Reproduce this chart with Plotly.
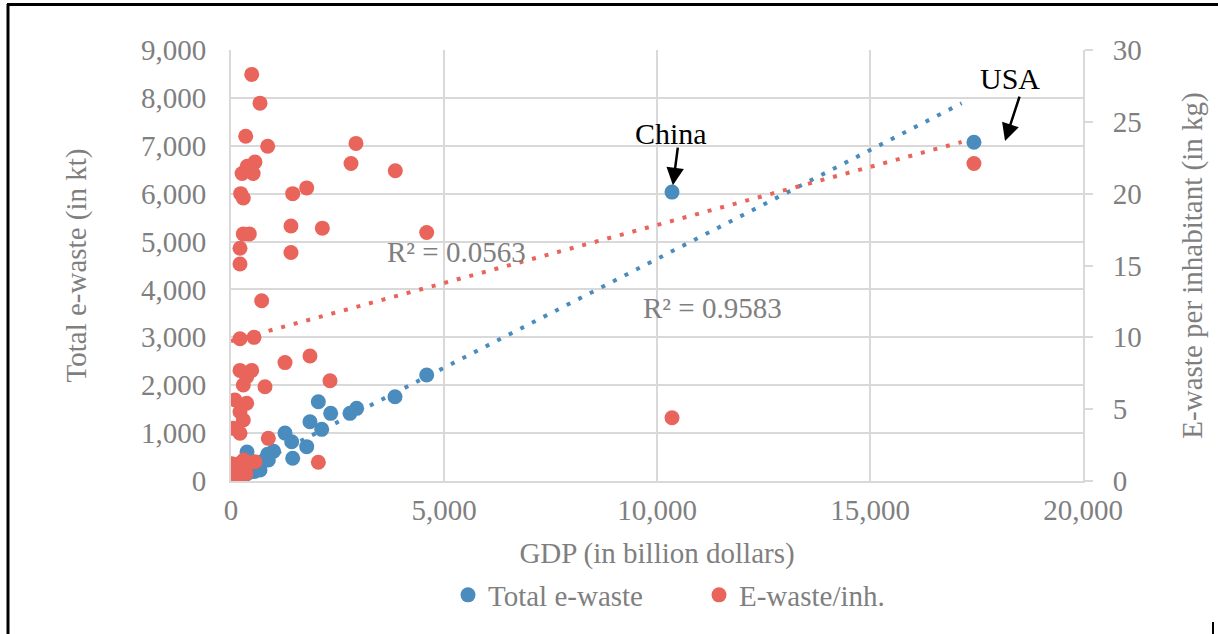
import plotly.graph_objects as go

# ---- Data -------------------------------------------------------------
# Total e-waste (kt) against GDP (billion dollars)
gdp_total = [17440, 10352, 4594, 3850, 2950, 2793, 2050, 2340, 1854, 2129,
             1268, 1424, 1777, 1448, 376, 1000, 860, 876, 681,
             760, 700, 640, 600, 550, 520, 450, 420, 380, 350, 300,
             270, 250, 200, 180, 150, 130, 120, 100, 90, 80, 60, 50, 40, 30, 20]
total_ewaste_kt = [7075, 6033, 2213, 1760, 1517, 1413, 1656, 1413, 1238, 1079,
                   1000, 820, 717, 474, 605, 620, 560, 438, 230,
                   420, 380, 350, 280, 200, 330, 250, 180, 200, 140, 160,
                   90, 120, 100, 70, 80, 50, 60, 45, 35, 40, 30, 25, 20, 15, 10]

# E-waste per inhabitant (kg) against GDP (billion dollars)
gdp_per_inh = [17440, 10352, 486, 681, 345, 861, 2934, 2817, 3857, 563,
               380, 260, 520, 227, 289, 1448, 1777, 289, 430, 1408,
               2144, 4594, 211, 211, 1408, 720, 211, 540, 1268, 1854,
               2324, 211, 486, 368, 289, 798, 94, 368, 211, 289,
               54, 211, 876, 2050, 563,
               20, 211, 300, 400, 100, 50, 150, 30, 250, 10, 350]
ewaste_per_inh_kg = [22.1, 4.4, 28.3, 26.3, 24.0, 23.3, 23.5, 22.1, 21.6, 22.2,
                     21.9, 21.4, 21.4, 20.0, 19.7, 20.0, 20.4, 17.2, 17.2, 17.75,
                     17.6, 17.3, 16.2, 15.1, 15.9, 12.55, 9.9, 10.0, 8.24, 8.7,
                     6.98, 7.7, 7.7, 7.26, 6.68, 6.56, 5.64, 5.41, 4.82, 4.25,
                     3.67, 3.32, 2.97, 1.30, 1.34,
                     1.2, 1.23, 1.46, 1.2, 0.65, 0.07, 0.4, 0.9, 0.8, 0.3, 0.5]

# Linear trendlines
trend_x = [0, 17150]
total_trend_intercept, total_trend_slope, total_trend_r2 = 92.0, 0.4545, "0.9583"
inh_trend_intercept, inh_trend_slope, inh_trend_r2 = 9.74, 0.000808, "0.0563"

x_ticks = [0, 5000, 10000, 15000, 20000]

# ---- Styling ----------------------------------------------------------
SERIF = "Liberation Serif"
GREY = "#7f7f7f"
GRID = "#d9d9d9"
BLUE = "#4a8cbd"
RED = "#e9645a"
FS = 29

fig = go.Figure()

fig.add_trace(go.Scatter(
    x=gdp_total, y=total_ewaste_kt, mode="markers", name="Total e-waste",
    marker=dict(color=BLUE, size=15, line=dict(width=0)), yaxis="y"))
fig.add_trace(go.Scatter(
    x=trend_x, y=[total_trend_intercept + total_trend_slope * v for v in trend_x],
    mode="lines", showlegend=False, hoverinfo="skip",
    line=dict(color=BLUE, width=4, dash="4px,9px"), yaxis="y"))
fig.add_trace(go.Scatter(
    x=gdp_per_inh, y=ewaste_per_inh_kg, mode="markers", name="E-waste/inh.",
    marker=dict(color=RED, size=15, line=dict(width=0)), yaxis="y2"))
fig.add_trace(go.Scatter(
    x=trend_x, y=[inh_trend_intercept + inh_trend_slope * v for v in trend_x],
    mode="lines", showlegend=False, hoverinfo="skip",
    line=dict(color=RED, width=4, dash="4px,9px"), yaxis="y2"))

# Plot area spans 231..1083 px horizontally and 50..481 px vertically
PL, PR, PT, PB = 231, 1083, 50, 481
W, H = 1218, 634


def px(xp):
    return (xp - PL) / (PR - PL)


def py(yp):
    return (PB - yp) / (PB - PT)


frame = dict(type="line", xref="paper", yref="paper",
             line=dict(color="black", width=3))
shapes = [
    dict(frame, x0=px(7), x1=px(1218), y0=py(4.5), y1=py(4.5)),
    dict(frame, x0=px(8), x1=px(8), y0=py(4), y1=py(634)),
    dict(frame, x0=px(1213), x1=px(1213), y0=py(622), y1=py(634),
         line=dict(color="black", width=2)),
]

label_font = dict(family=SERIF, size=30, color="black")
r2_font = dict(family=SERIF, size=FS, color=GREY)
title_font = dict(family=SERIF, size=FS, color=GREY)

annotations = [
    dict(x=10352, y=6033, xref="x", yref="y", text="", showarrow=True,
         ax=6, ay=-46, arrowhead=2, arrowsize=1.4, arrowwidth=2.5,
         arrowcolor="black", standoff=7),
    dict(x=10340, y=7265, xref="x", yref="y", text="China", showarrow=False,
         font=label_font),
    dict(x=18169, y=7098, xref="x", yref="y", text="", showarrow=True,
         ax=15, ay=-46, arrowhead=2, arrowsize=1.4, arrowwidth=2.5,
         arrowcolor="black"),
    dict(x=18286, y=8413, xref="x", yref="y", text="USA", showarrow=False,
         font=label_font),
    dict(x=5282, y=4781, xref="x", yref="y", text="R² = " + inh_trend_r2,
         showarrow=False, font=r2_font),
    dict(x=11291, y=3612, xref="x", yref="y", text="R² = " + total_trend_r2,
         showarrow=False, font=r2_font),
]

fig.update_layout(
    width=W, height=H,
    margin=dict(l=PL, r=W - PR, t=PT, b=H - PB, autoexpand=False),
    plot_bgcolor="white", paper_bgcolor="white",
    font=dict(family=SERIF, size=FS, color=GREY),
    showlegend=True,
    legend=dict(orientation="h", x=px(448), xanchor="left",
                y=py(595), yanchor="middle", itemwidth=30,
                entrywidth=206, font=dict(family=SERIF, size=FS, color=GREY),
                bgcolor="rgba(0,0,0,0)"),
    xaxis=dict(range=[0, 20000], tickvals=x_ticks, tickformat=",",
               showgrid=True, gridcolor=GRID, gridwidth=2,
               showline=True, linecolor=GRID, linewidth=2, zeroline=False,
               ticks="", ticklabelstandoff=2,
               tickfont=dict(family=SERIF, size=FS, color=GREY),
               title=dict(text="GDP (in billion dollars)", standoff=18,
                          font=title_font)),
    yaxis=dict(range=[0, 9000], dtick=1000, tickformat=",",
               showgrid=True, gridcolor=GRID, gridwidth=2,
               showline=True, linecolor=GRID, linewidth=2, zeroline=False,
               ticks="", ticklabelstandoff=17,
               tickfont=dict(family=SERIF, size=FS, color=GREY),
               title=dict(text="Total e-waste (in kt)", standoff=46,
                          font=title_font)),
    yaxis2=dict(range=[0, 30], dtick=5, overlaying="y", side="right",
                showgrid=False, showline=True, linecolor=GRID, linewidth=2,
                zeroline=False, ticks="outside", ticklen=8, tickwidth=2,
                tickcolor=GRID, ticklabelstandoff=14,
                tickfont=dict(family=SERIF, size=FS, color=GREY),
                title=dict(text="E-waste per inhabitant (in kg)", standoff=41,
                           font=title_font)),
    shapes=shapes,
    annotations=annotations,
)

fig.write_html("out.html")
